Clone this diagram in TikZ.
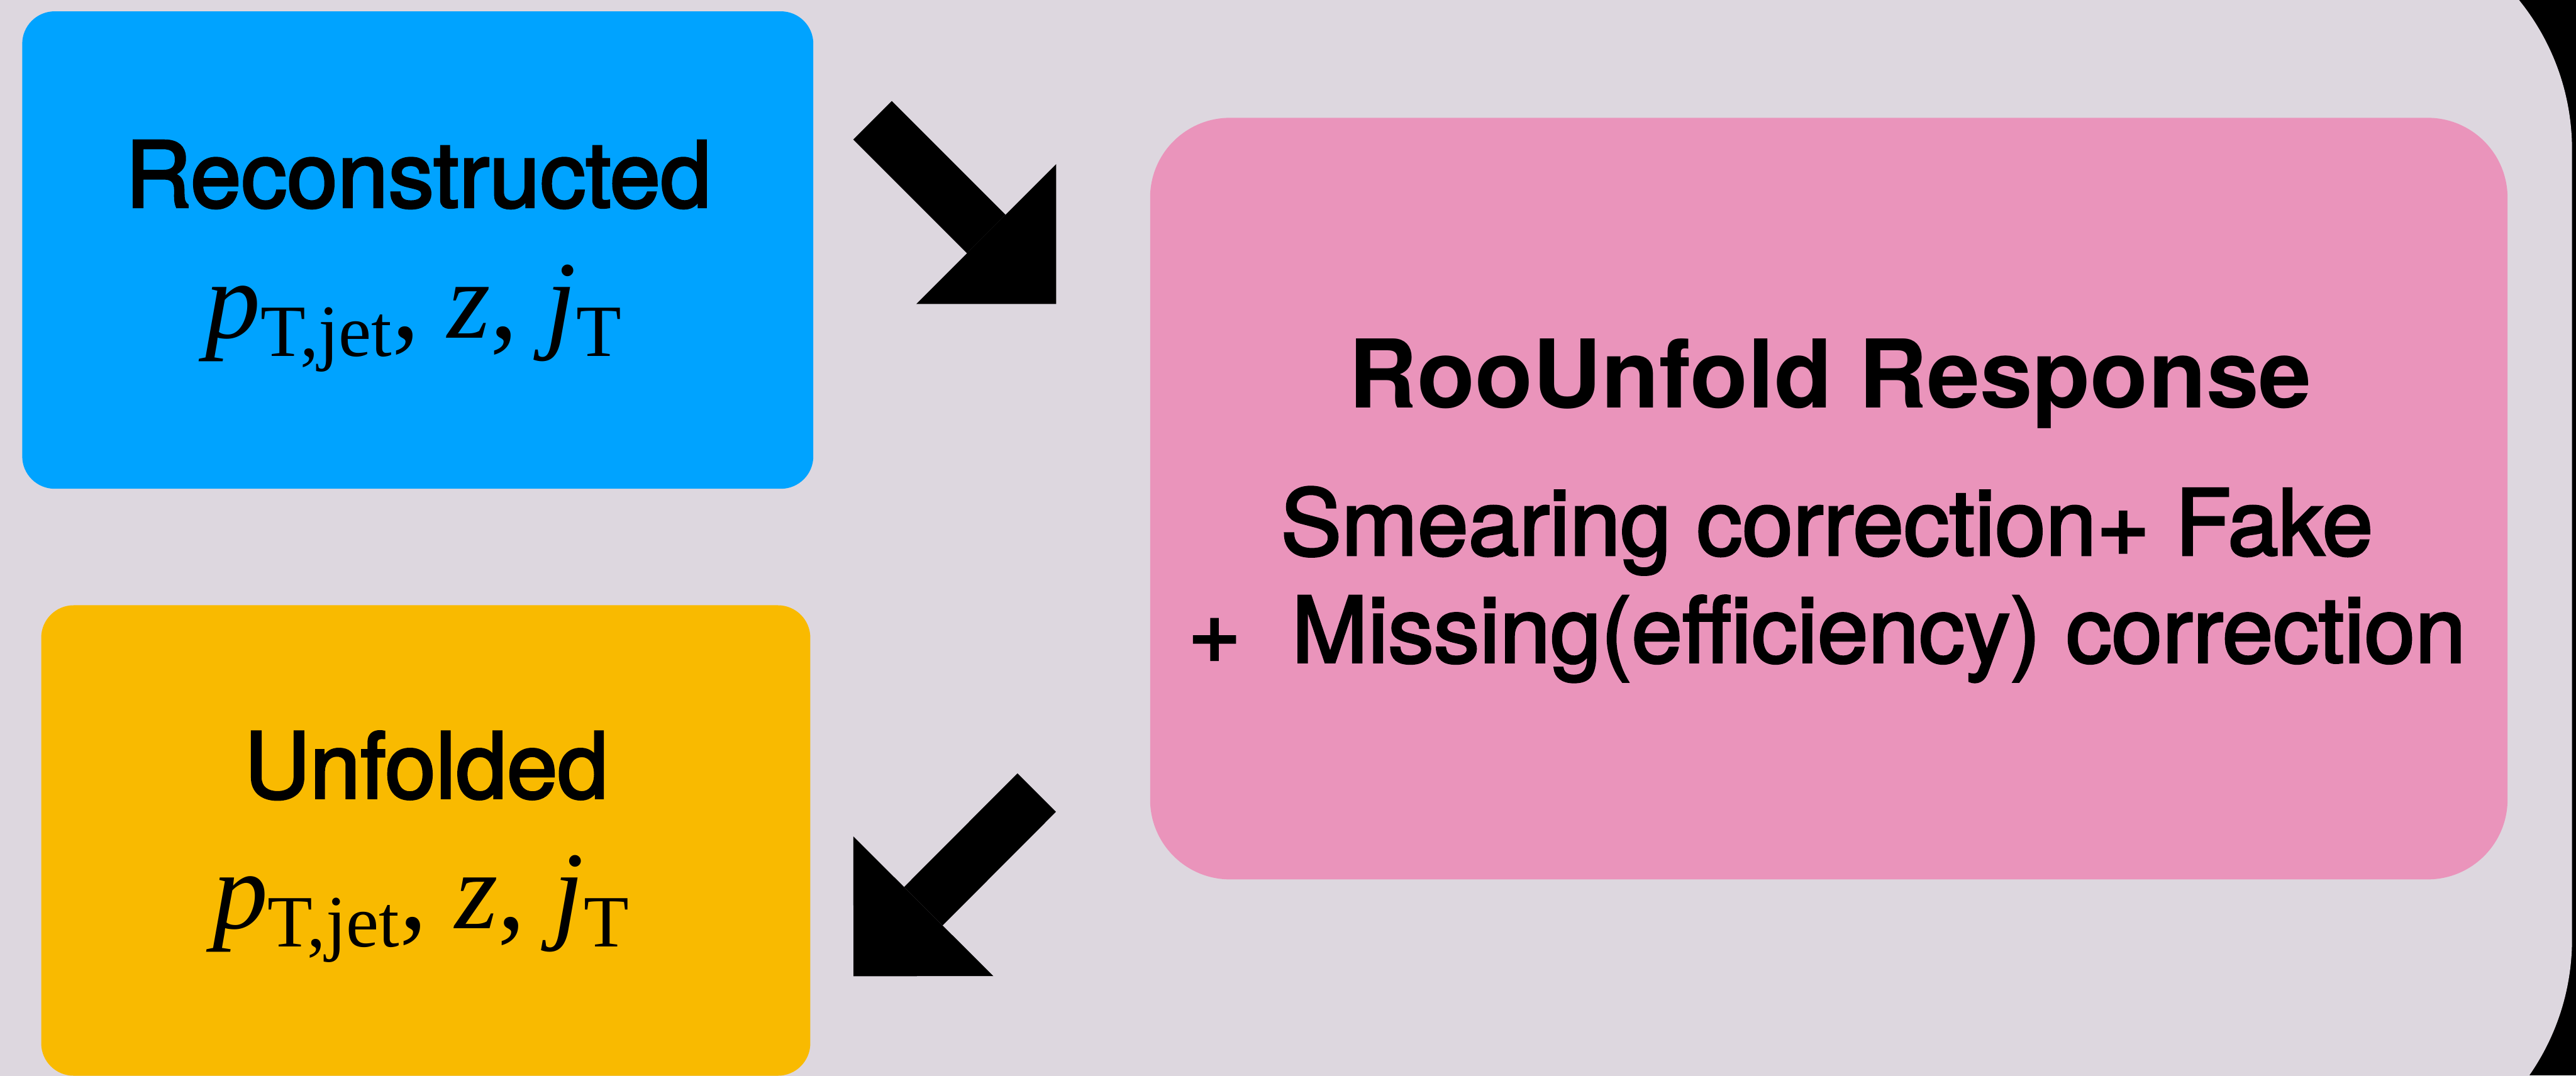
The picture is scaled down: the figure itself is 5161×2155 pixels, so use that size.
\documentclass[tikz,border=0pt]{standalone}
\usepackage{fontspec}
\setmainfont{TeX Gyre Heros}
\newfontfamily\timesfont{Liberation Serif}
\newfontfamily\labelfont[FakeBold=2.5]{TeX Gyre Heros}
\usetikzlibrary{arrows.meta}

\definecolor{panelgrey}{HTML}{DDD7DF}
\definecolor{recoblue}{HTML}{00A3FF}
\definecolor{unfoldyellow}{HTML}{F9BA00}
\definecolor{responsepink}{HTML}{EA94BB}

\begin{document}
\begin{tikzpicture}[x=0.01cm, y=-0.01cm]

% GLOBAL SETTINGS
\newcommand{\boxfont}{\labelfont\fontsize{52}{52}\selectfont}
\newcommand{\titlefont}{\fontsize{54}{54}\selectfont\bfseries}
\newcommand{\varfont}{\timesfont\fontsize{63}{63}\selectfont}
\newcommand{\lowidx}[1]{\raisebox{-0.37cm}{\fontsize{42}{42}\selectfont #1}}
\newcommand{\kinvars}{{\itshape p}\lowidx{T,jet}, {\itshape z}, {\itshape j}\lowidx{T}}
\tikzset{
  stage/.style={rounded corners=0.65cm, inner sep=0pt},
  flow/.style={line width=1.09cm, line cap=butt,
    -{Triangle[length=1.98cm, width=3.96cm, line width=0pt]}}
}

% PANEL
\useasboundingbox (0,0) rectangle (5161,2155);
\fill[black] (0,0) rectangle (5161,2155);
\fill[panelgrey, rounded corners=4.77cm] (-700,-177) rectangle (5153,2359);

% BOXES
\node[stage, fill=recoblue, minimum width=15.84cm, minimum height=9.56cm] (reco) at (837,501) {};
\node[stage, fill=unfoldyellow, minimum width=15.4cm, minimum height=9.42cm] (unfold) at (853,1684) {};
\node[stage, fill=responsepink, rounded corners=1.6cm, minimum width=27.18cm, minimum height=15.25cm] (resp) at (3664,999) {};

% TEXTS
\node[anchor=base, font=\boxfont] (recolabel) at (838,415) {Reconstructed};
\node[anchor=base, font=\varfont] (recovars) at (828,677) {\kinvars};
\node[anchor=base, font=\boxfont] (unfoldlabel) at (854,1599) {Unfolded};
\node[anchor=base, font=\varfont] (unfoldvars) at (843,1860) {\kinvars};
\node[anchor=base, font=\titlefont] (resptitle) at (3667,817) {RooUnfold Response};
\node[anchor=base, font=\boxfont] (respline1) at (3660,1112) {Smearing correction+ Fake};
\node[anchor=base, font=\boxfont] (respline2) at (3660,1327) {+\ \ Missing(efficiency) correction};

% ARROWS
\coordinate (intail) at (1748,241);
\coordinate (inhead) at (2116,609);
\coordinate (outtail) at (2077,1588);
\coordinate (outhead) at (1710,1956);
\foreach \from/\to in {intail/inhead, outtail/outhead} {
\draw[flow] (\from) -- (\to) ;
}

\end{tikzpicture}
\end{document}
